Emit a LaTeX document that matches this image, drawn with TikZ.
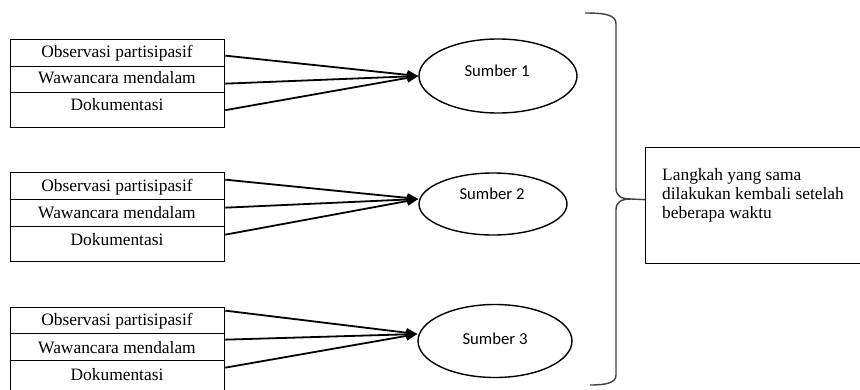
\documentclass[tikz,border=0pt]{standalone}
\usepackage{fontspec}
\setmainfont{Liberation Serif}
\newfontfamily\calib{Carlito}
\usetikzlibrary{arrows.meta,shapes.geometric}
\begin{document}
\begin{tikzpicture}[x=1pt,y=-1pt,
 rowbox/.style={draw, line width=1.3pt, minimum width=214pt, anchor=north west, inner sep=0pt},
 rowtxt/.style={anchor=base, font=\fontsize{17.4}{20}\selectfont, inner sep=0pt},
 srcnode/.style={draw, ellipse, line width=1.4pt, inner sep=0pt},
 srctxt/.style={font=\calib\fontsize{16.7}{20}\selectfont, inner sep=0pt},
 conn/.style={line width=1.8pt, -{Triangle[length=11pt,width=9pt]}},
 bracestyle/.style={line width=1.4pt, draw=black!75}
]
\useasboundingbox (0,0) rectangle (860,389);

% group 1
\node[rowbox, minimum height=27pt] (o1) at (10,39) {};
\node[rowbox, minimum height=26pt] (w1) at (10,66) {};
\node[rowbox, minimum height=35pt] (d1) at (10,92) {};
\node[rowtxt] (to1) at (117,57) {Observasi partisipasif};
\node[rowtxt] (tw1) at (117,83) {Wawancara mendalam};
\node[rowtxt] (td1) at (117,110) {Dokumentasi};

% group 2
\node[rowbox, minimum height=27pt] (o2) at (10,172) {};
\node[rowbox, minimum height=27pt] (w2) at (10,199) {};
\node[rowbox, minimum height=35pt] (d2) at (10,226) {};
\node[rowtxt] (to2) at (117,191) {Observasi partisipasif};
\node[rowtxt] (tw2) at (117,218) {Wawancara mendalam};
\node[rowtxt] (td2) at (117,245) {Dokumentasi};

% group 3
\node[rowbox, minimum height=26pt] (o3) at (10,307) {};
\node[rowbox, minimum height=27pt] (w3) at (10,333) {};
\node[rowbox, minimum height=36pt] (d3) at (10,360) {};
\node[rowtxt] (to3) at (117,325) {Observasi partisipasif};
\node[rowtxt] (tw3) at (117,353) {Wawancara mendalam};
\node[rowtxt] (td3) at (117,380) {Dokumentasi};

% sources
\node[srcnode, minimum width=158pt, minimum height=74pt] (s1) at (498,76) {};
\node[srctxt] (ts1) at (497,71) {Sumber 1};
\node[srcnode, minimum width=148pt, minimum height=62pt] (s2) at (493,204) {};
\node[srctxt] (ts2) at (492,194) {Sumber 2};
\node[srcnode, minimum width=154pt, minimum height=73pt] (s3) at (495,341) {};
\node[srctxt] (ts3) at (495,339) {Sumber 3};

% connectors
\draw[conn] ([yshift=-2.5pt]o1.east) -- (s1.west);
\draw[conn] ([yshift=-4pt]w1.east) -- (s1.west);
\draw[conn] (d1.east) -- (s1.west);

\draw[conn] ([yshift=6.5pt]o2.east) -- ([yshift=5pt]s2.west);
\draw[conn] ([yshift=5.5pt]w2.east) -- ([yshift=5pt]s2.west);
\draw[conn] ([yshift=9.5pt]d2.east) -- ([yshift=5pt]s2.west);

\draw[conn] ([yshift=10pt]o3.east) -- ([yshift=7pt]s3.west);
\draw[conn] ([yshift=7.5pt]w3.east) -- ([yshift=7pt]s3.west);
\draw[conn] ([yshift=11pt]d3.east) -- ([yshift=7pt]s3.west);

% note box
\node[draw, line width=1.3pt, anchor=north west, minimum width=230pt, minimum height=116pt, inner sep=0pt] (note) at (645,147) {};
\node[anchor=north west, align=left, inner sep=0pt, font=\fontsize{17.4}{19}\selectfont] (notetxt) at (662,168) {Langkah yang sama\\dilakukan kembali setelah\\beberapa waktu};

% brace
\draw[bracestyle] (585,13) .. controls (606,13) and (616,15) .. (616,24) -- (616,188)
  .. controls (616,196) and (621,199) .. (631,199) -- ([yshift=6pt]note.west);
\draw[bracestyle] (631,199) .. controls (621,199) and (616,202) .. (616,210) -- (616,375)
  .. controls (616,383) and (606,385) .. (590,385);
\end{tikzpicture}
\end{document}
